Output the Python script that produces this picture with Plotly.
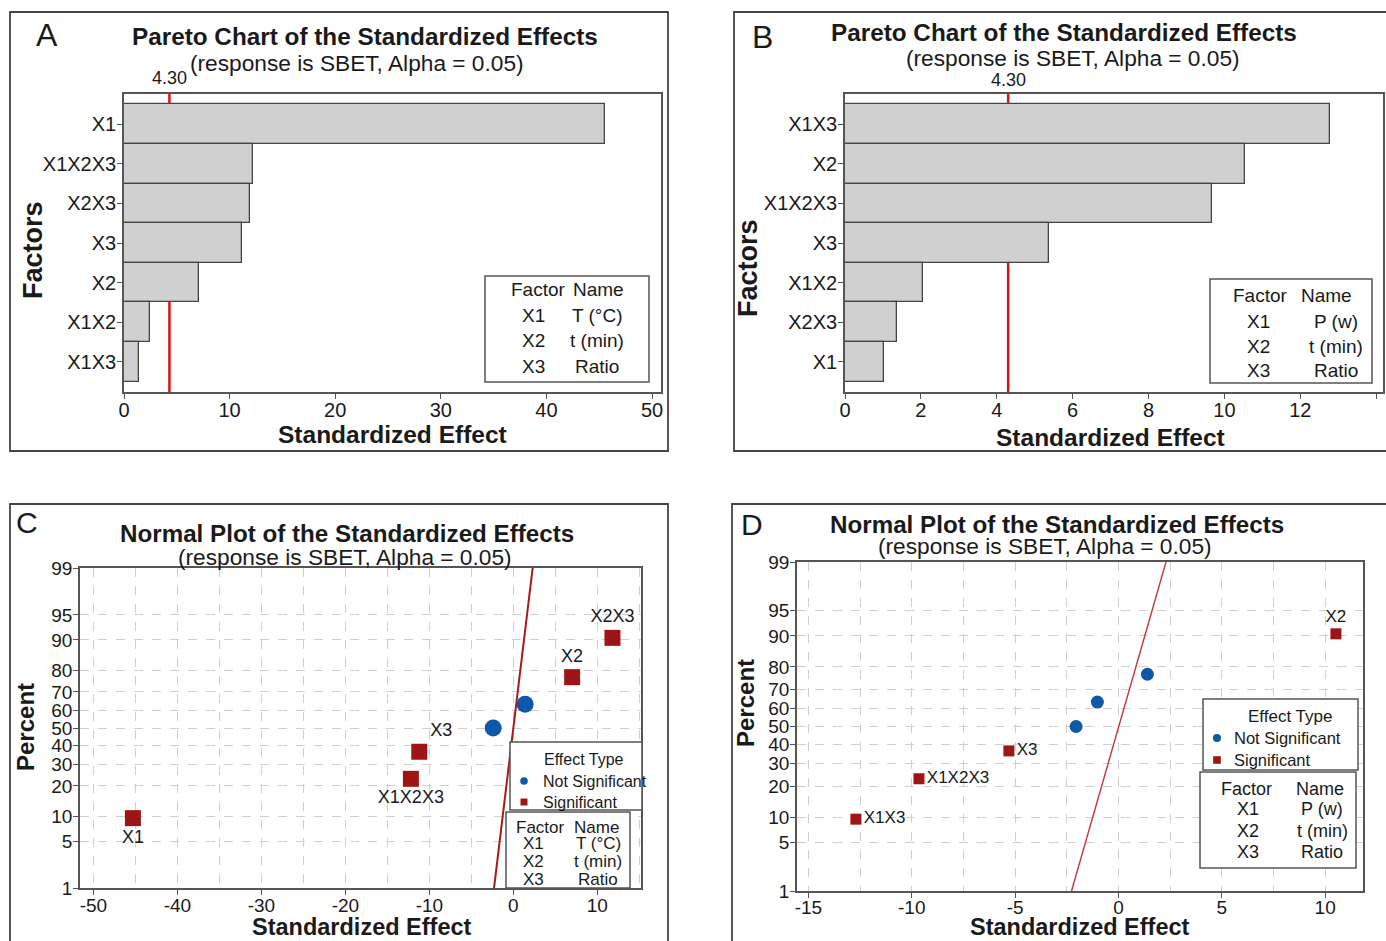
import plotly.graph_objects as go
from statistics import NormalDist

W, H = 1386, 941

# ---------------- data ----------------
# Panel A (Pareto)
a_factors = ["X1", "X1X2X3", "X2X3", "X3", "X2", "X1X2", "X1X3"]
a_effects = [45.5, 12.2, 11.9, 11.2, 7.1, 2.5, 1.45]
# Panel B (Pareto)
b_factors = ["X1X3", "X2", "X1X2X3", "X3", "X1X2", "X2X3", "X1"]
b_effects = [12.78, 10.55, 9.68, 5.37, 2.05, 1.38, 1.04]
t_crit = 4.30

# Panel C (normal plot)
c_terms = ["X1", "X1X2X3", "X3", "X1X2", "X1X3", "X2", "X2X3"]
c_effects = [-45.3, -12.2, -11.2, -2.4, 1.4, 7.0, 11.8]
c_percent = [9.5, 23.0, 36.5, 50.0, 63.5, 77.0, 90.5]
c_significant = [True, True, True, False, False, True, True]
c_line_x = [-2.3, 2.3]

# Panel D (normal plot)
d_terms = ["X1X3", "X1X2X3", "X3", "X1X2", "X1", "X2X3", "X2"]
d_effects = [-12.7, -9.65, -5.3, -2.05, -1.02, 1.4, 10.52]
d_percent = [9.5, 23.0, 36.5, 50.0, 63.5, 77.0, 90.5]
d_significant = [True, True, True, False, False, False, True]
d_line_x = [-2.27, 2.3]

line_percent = [1, 99]
percent_ticks = [1, 5, 10, 20, 30, 40, 50, 60, 70, 80, 90, 95, 99]
a_xticks = [0, 10, 20, 30, 40, 50]
b_xticks = [0, 2, 4, 6, 8, 10, 12, 14]
c_xticks = [-50, -40, -30, -20, -10, 0, 10]
d_xticks = [-15, -10, -5, 0, 5, 10]

factor_codes = ["X1", "X2", "X3"]
names_1 = ["T (°C)", "t (min)", "Ratio"]
names_2 = ["P (w)", "t (min)", "Ratio"]

title_pareto = "Pareto Chart of the Standardized Effects"
title_normal = "Normal Plot of the Standardized Effects"
subtitle = "(response is SBET, Alpha = 0.05)"
x_title = "Standardized Effect"

# ---------------- helpers ----------------
nd = NormalDist()


def z(p):
    return nd.inv_cdf(p / 100.0)


def X(p):
    return p / W


def Y(p):
    return 1 - p / H


FONT = "Liberation Sans, Arial, sans-serif"
TXT = "#1a1a1a"
AX = "#555555"
RED_PT = "#9e1515"
BLUE_PT = "#0d58a8"

fig = go.Figure()

# Pareto bars
bar_style = dict(orientation="h", marker=dict(color="#d0d0d0", line=dict(color="#454545", width=1.3)),
                 width=1.0, showlegend=False, hoverinfo="x+y")
fig.add_trace(go.Bar(x=a_effects, y=a_factors, xaxis="x", yaxis="y", **bar_style))
fig.add_trace(go.Bar(x=b_effects, y=b_factors, xaxis="x2", yaxis="y2", **bar_style))


def normal_traces(terms, effects, percent, sig, line_x, xa, ya, msize_sq, msize_ci, lw, lcolor,
                  textpos, tsize):
    fig.add_trace(go.Scatter(x=line_x, y=[z(p) for p in line_percent], mode="lines",
                             line=dict(color=lcolor, width=lw), xaxis=xa, yaxis=ya,
                             showlegend=False, hoverinfo="skip"))
    ns = [i for i, s in enumerate(sig) if not s]
    ss = [i for i, s in enumerate(sig) if s]
    fig.add_trace(go.Scatter(x=[effects[i] for i in ns], y=[z(percent[i]) for i in ns],
                             mode="markers", name="Not Significant", showlegend=False,
                             marker=dict(symbol="circle", size=msize_ci, color=BLUE_PT),
                             text=[terms[i] for i in ns], xaxis=xa, yaxis=ya))
    fig.add_trace(go.Scatter(x=[effects[i] for i in ss], y=[z(percent[i]) for i in ss],
                             mode="markers+text", name="Significant", showlegend=False,
                             marker=dict(symbol="square", size=msize_sq, color=RED_PT),
                             text=[terms[i] for i in ss], textposition=[textpos[i] for i in ss],
                             textfont=dict(size=tsize, color=TXT, family=FONT),
                             xaxis=xa, yaxis=ya))


c_textpos = ["bottom center", "bottom center", "top right", "", "", "top center", "top center"]
d_textpos = ["middle right", "middle right", "middle right", "", "", "", "top center"]
normal_traces(c_terms, c_effects, c_percent, c_significant, c_line_x, "x3", "y3",
              16, 17, 2, "#a51a1a", c_textpos, 18)
normal_traces(d_terms, d_effects, d_percent, d_significant, d_line_x, "x4", "y4",
              11, 13, 1.4, "#c03838", d_textpos, 17)

# ---------------- axes ----------------
base = dict(showline=True, mirror=True, linecolor=AX, linewidth=1.6, ticks="outside", ticklen=5,
            tickcolor=AX, tickwidth=1.2, tickfont=dict(size=20, color=TXT, family=FONT),
            showgrid=False, zeroline=False, automargin=False)


def lab(v):
    return [str(t) for t in v]


fig.update_layout(
    xaxis=dict(base, domain=[X(124), X(661)], anchor="y", range=[0, 50.85], tickvals=a_xticks,
               ticktext=lab(a_xticks), ticklabelstandoff=-6),
    yaxis=dict(base, domain=[Y(392), Y(94)], anchor="x", type="category", range=[6.76, -0.76],
               ticklabelstandoff=-3),
    xaxis2=dict(base, domain=[X(845), X(1383)], anchor="y2", range=[0, 14.18],
                tickvals=b_xticks, ticktext=lab(b_xticks), ticklabelstandoff=-6),
    yaxis2=dict(base, domain=[Y(392), Y(94)], anchor="x2", type="category", range=[6.76, -0.76],
                ticklabelstandoff=-3),
)

grid = dict(showgrid=True, gridcolor="#cfcfcf", griddash="dash", gridwidth=1)
small = dict(size=19, color=TXT, family=FONT)
fig.update_layout(
    xaxis3=dict(base, **grid, domain=[X(80), X(641)], anchor="y3", range=[-51.6, 15.2],
                tickvals=c_xticks, ticktext=lab(c_xticks), ticklabelstandoff=-6, tickfont=small,
                minor=dict(dtick=5, tick0=0, showgrid=True, gridcolor="#cfcfcf", griddash="dash")),
    yaxis3=dict(base, **grid, domain=[Y(888), Y(568)], anchor="x3", range=[z(1), z(99)],
                tickvals=[z(p) for p in percent_ticks], ticktext=lab(percent_ticks), ticklabelstandoff=-3,
                tickfont=small),
    xaxis4=dict(base, **grid, domain=[X(797), X(1363)], anchor="y4", range=[-15.55, 11.83],
                tickvals=d_xticks, ticktext=lab(d_xticks), ticklabelstandoff=-7, tickfont=small,
                minor=dict(dtick=2.5, tick0=0, showgrid=True, gridcolor="#cfcfcf", griddash="dash")),
    yaxis4=dict(base, **grid, domain=[Y(891), Y(562)], anchor="x4", range=[z(1), z(99)],
                tickvals=[z(p) for p in percent_ticks], ticktext=lab(percent_ticks), ticklabelstandoff=-3,
                tickfont=small),
)

# ---------------- shapes ----------------
shapes = []
# panel frames
for x0, y0, x1, y1 in [(10, 12, 668, 451), (734, 12, 1392, 451), (10, 504, 668, 950), (732, 504, 1392, 950)]:
    shapes.append(dict(type="rect", xref="paper", yref="paper", x0=X(x0), x1=X(x1), y0=Y(y0), y1=Y(y1),
                       line=dict(color="#444444", width=1.8), layer="above"))
# critical lines
for xr, yr in [("x", "y domain"), ("x2", "y2 domain")]:
    shapes.append(dict(type="line", xref=xr, yref=yr, x0=t_crit, x1=t_crit, y0=0, y1=1,
                       line=dict(color="#e01010", width=2.5), layer="below"))
# factor boxes + effect-type legend boxes
for x0, y0, x1, y1 in [(485, 276, 649, 382), (1210, 279, 1372, 383), (506, 812, 630, 888),
                       (1200, 772, 1356, 868), (510, 742, 642, 810), (1203, 699, 1358, 770)]:
    shapes.append(dict(type="rect", xref="paper", yref="paper", x0=X(x0), x1=X(x1), y0=Y(y0), y1=Y(y1),
                       line=dict(color=AX, width=1.5), fillcolor="white", layer="above"))
# legend glyphs (circle = Not Significant, square = Significant)
for cx, cy, r, kind, col in [(524, 781, 3.8, "circle", BLUE_PT), (524, 802, 3.5, "rect", RED_PT),
                             (1217, 738, 4, "circle", BLUE_PT), (1217, 760, 3.8, "rect", RED_PT)]:
    shapes.append(dict(type=kind, xref="paper", yref="paper", x0=X(cx - r), x1=X(cx + r),
                       y0=Y(cy + r), y1=Y(cy - r), fillcolor=col, line=dict(width=0), layer="above"))
fig.update_layout(shapes=shapes)

# ---------------- annotations ----------------
ann = []


def text(s, x, y, size, bold=False, xanchor="center", angle=0):
    ann.append(dict(text=("<b>%s</b>" % s) if bold else s, x=X(x), y=Y(y), xref="paper", yref="paper",
                    xanchor=xanchor, yanchor="middle", showarrow=False, textangle=angle,
                    font=dict(size=size, color=TXT, family=FONT)))


# panel letters
text("A", 47, 35, 32)
text("B", 762, 37, 32)
text("C", 27, 522, 30)
text("D", 752, 524, 30)
# titles
text(title_pareto, 365, 37, 24.3, bold=True)
text(subtitle, 357, 63, 22.7)
text(title_pareto, 1064, 33, 24.3, bold=True)
text(subtitle, 1073, 58, 22.7)
text(title_normal, 347, 533, 24.2, bold=True)
text(subtitle, 345, 557, 22.7)
text(title_normal, 1057, 524, 24.2, bold=True)
text(subtitle, 1045, 546, 22.7)
# axis titles
text(x_title, 392, 435, 24.5, bold=True)
text(x_title, 1110, 437, 24.5, bold=True)
text(x_title, 362, 927, 23.5, bold=True)
text(x_title, 1080, 927, 23.5, bold=True)
text("Factors", 33, 250, 27, bold=True, angle=-90)
text("Factors", 748, 268, 27, bold=True, angle=-90)
text("Percent", 25, 727, 24, bold=True, angle=-90)
text("Percent", 745, 703, 24, bold=True, angle=-90)
# critical value labels
for xr, yp in [("x", 78), ("x2", 80)]:
    ann.append(dict(text="%.2f" % t_crit, x=t_crit, xref=xr, y=Y(yp), yref="paper",
                    xanchor="center", yanchor="middle", showarrow=False,
                    font=dict(size=18, color=TXT, family=FONT)))

# effect type legends
text("Effect Type", 584, 759, 16)
text("Not Significant", 541, 781, 16, xanchor="left")
text("Significant", 541, 802, 16, xanchor="left")
text("Effect Type", 1290, 716, 17)
text("Not Significant", 1232, 738, 16.5, xanchor="left")
text("Significant", 1232, 760, 16.5, xanchor="left")


def factor_table(names, hdr_y, rows_y, fx_hdr, nx_hdr, fx, nx, size):
    text("Factor", fx_hdr, hdr_y, size)
    text("Name", nx_hdr, hdr_y, size)
    for code, name, ry in zip(factor_codes, names, rows_y):
        text(code, fx, ry, size)
        text(name, nx, ry, size)


factor_table(names_1, 289, [315, 340, 366], 538, 598, 533, 597, 19)
factor_table(names_2, 295, [321, 346, 370], 1260, 1326, 1258, 1336, 19)
factor_table(names_1, 827, [843, 861, 879], 540, 596, 533, 598, 17)
factor_table(names_2, 789, [809, 831, 852], 1246, 1320, 1248, 1322, 18)

fig.update_layout(annotations=ann)

fig.update_layout(width=W, height=H, margin=dict(l=0, r=0, t=0, b=0), template="none",
                  paper_bgcolor="white", plot_bgcolor="white", bargap=0,
                  font=dict(family=FONT, color=TXT), showlegend=False)

fig.write_html("out.html")
